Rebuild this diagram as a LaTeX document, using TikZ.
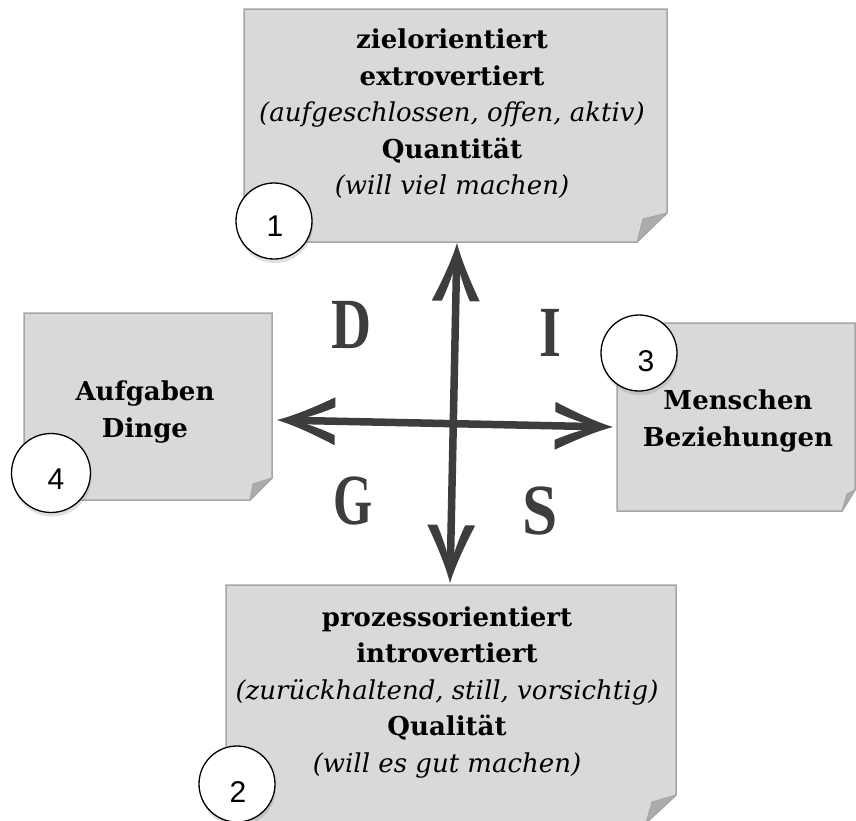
\documentclass[tikz,border=0pt]{standalone}
\usepackage{graphicx}
\usepackage{fontspec}
\setmainfont{DejaVu Serif}
\newfontfamily\numfont{Liberation Sans}
\newfontfamily\letfont{Liberation Serif}
\usetikzlibrary{shadows}
\definecolor{boxfill}{HTML}{D9D9D9}
\definecolor{boxline}{HTML}{A6A6A6}
\definecolor{foldfill}{HTML}{ABABAB}
\definecolor{arrowc}{HTML}{3D3D3D}
\newcommand\headpath{(0,0) .. controls (-18,5) and (-40,15) .. (-58,24) -- (-58,14) .. controls (-48,9.5) and (-38,6) .. (-30,3.5) -- (-30,-3.5) .. controls (-38,-6) and (-48,-9.5) .. (-58,-14) -- (-58,-24) .. controls (-40,-15) and (-18,-5) .. (0,0) -- cycle}
\begin{document}
\begin{tikzpicture}[x=1pt,y=-1pt,
  card/.style={fill=boxfill, draw=boxline, line width=1.5pt},
  fold/.style={fill=foldfill, draw=boxline, line width=1pt, line join=round},
  cardtext/.style={align=center, font=\fontsize{26}{36.5}\selectfont, inner sep=0pt},
  numcirc/.style={circle, draw=black, line width=1.3pt, fill=white, minimum size=76pt, inner sep=0pt,
    drop shadow={shadow xshift=1pt, shadow yshift=-4pt, opacity=0.25}},
  numtext/.style={font=\numfont\fontsize{30}{32}\selectfont, inner sep=0pt},
  bigletter/.style={font=\letfont\bfseries\fontsize{72}{72}\selectfont, text=arrowc, inner sep=0pt},
  shaft/.style={draw=arrowc, line width=7.5pt, shorten >=15pt, shorten <=15pt},
  head/.style={fill=arrowc}
]
\useasboundingbox (0,0) rectangle (856,820);
\fill[white] (0,0) rectangle (856,820);
\clip (0,0) rectangle (856,820);

% cards
\path[card] (244,9) -- (667,9) -- (667,213) -- (637,242) -- (244,242) -- cycle;
\path[fold] (667,213) -- (643,219) -- (637,242) -- cycle;

\path[card] (24,313) -- (272,313) -- (272,478) -- (250,500) -- (24,500) -- cycle;
\path[fold] (272,478) -- (253,484) -- (250,500) -- cycle;

\path[card] (617,323) -- (855,323) -- (855,490) -- (842,511) -- (617,511) -- cycle;
\path[fold] (855,490) -- (847,494) -- (842,511) -- cycle;

\path[card] (226,585) -- (676,585) -- (676,795) -- (646,823) -- (226,823) -- cycle;
\path[fold] (676,795) -- (652,802) -- (646,823) -- cycle;

% card texts
\node[cardtext] (ttop) at (452,114) {\textbf{zielorientiert}\\ \textbf{extrovertiert}\\ \textit{(aufgeschlossen, offen, aktiv)}\\ \textbf{Quantität}\\ \textit{(will viel machen)}};
\node[cardtext] (tbot) at (447,692) {\textbf{prozessorientiert}\\ \textbf{introvertiert}\\ \textit{(zurückhaltend, still, vorsichtig)}\\ \textbf{Qualität}\\ \textit{(will es gut machen)}};
\node[cardtext] (tleft) at (145,412) {\textbf{Aufgaben}\\ \textbf{Dinge}};
\node[cardtext] (tright) at (738,421) {\textbf{Menschen}\\ \textbf{Beziehungen}};

% cross of arrows
\coordinate (up) at (457,243);
\coordinate (down) at (450,583);
\coordinate (left) at (277,420);
\coordinate (right) at (613,427);
\draw[shaft] (down) -- (up);
\draw[shaft] (left) -- (right);
\fill[head, shift={(up)}, rotate=88.8] \headpath;
\fill[head, shift={(down)}, rotate=-91.2] \headpath;
\fill[head, shift={(right)}, rotate=-1.2] \headpath;
\fill[head, shift={(left)}, rotate=178.8] \headpath;

% letters
\node[bigletter] (lD) at (352,325) {\scalebox{0.77}[1]{D}};
\node[bigletter] (lI) at (550,333) {\scalebox{0.78}[1]{I}};
\node[bigletter] (lG) at (353,501) {\scalebox{0.70}[1]{G}};
\node[bigletter] (lS) at (540,511) {\scalebox{0.88}[1]{S}};

% numbered circles
\node[numcirc] (c1) at (274,221) {};
\node[numtext] (n1) at (275,226) {1};
\node[numcirc] (c2) at (237,784) {};
\node[numtext] (n2) at (238,792) {2};
\node[numcirc] (c3) at (639,353) {};
\node[numtext] (n3) at (646,361) {3};
\node[numcirc, minimum size=79pt] (c4) at (51,473) {};
\node[numtext] (n4) at (56,479) {4};
\end{tikzpicture}
\end{document}
